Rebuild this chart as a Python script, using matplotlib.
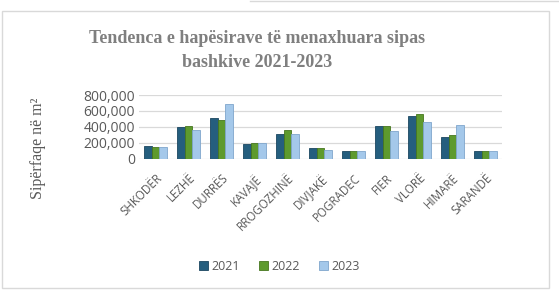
import matplotlib
matplotlib.use("Agg")
import matplotlib.pyplot as plt
from matplotlib.patches import Rectangle
import numpy as np

categories = ["SHKODËR", "LEZHË", "DURRËS", "KAVAJË", "RROGOZHINË", "DIVJAKË",
              "POGRADEC", "FIER", "VLORË", "HIMARË", "SARANDË"]
v2021 = [158000, 398000, 510000, 185000, 316000, 135000, 97000, 413000, 543000, 274000, 105000]
v2022 = [150000, 417000, 488000, 194000, 366000, 135000, 97000, 413000, 568000, 303000, 105000]
v2023 = [150000, 366000, 682000, 202000, 316000, 110000, 97000, 354000, 463000, 421000, 105000]
years = ["2021", "2022", "2023"]
colors = ["#255E7E", "#5E9A2E", "#A4C8EA"]
edges = ["#1B4660", "#46761F", "#7FA6CC"]
yticks = [0, 200000, 400000, 600000, 800000]

fig = plt.figure(figsize=(5.59, 2.96), dpi=100)
ax = fig.add_axes([0.2487, 0.463, 0.649, 0.216])

x = np.arange(len(categories))
w = 0.23
for i, (vals, c, ec, lab) in enumerate(zip([v2021, v2022, v2023], colors, edges, years)):
    ax.bar(x + (i - 1) * w, vals, width=w, color=c, edgecolor=ec, linewidth=0.6,
           label=lab, zorder=3)

ax.set_xlim(-0.5, len(categories) - 0.5)
ax.set_ylim(0, 800000)
ax.set_yticks(yticks)
ax.set_yticklabels([f"{v:,}" for v in yticks], fontsize=10, color="#595959", family="Open Sans")
ax.set_xticks(x)
ax.set_xticklabels(categories, rotation=45, ha="right", rotation_mode="anchor",
                   fontsize=8.3, color="#595959", family="Open Sans")
ax.tick_params(axis="both", length=0)
ax.tick_params(axis="x", pad=9)
ax.tick_params(axis="y", pad=3)
ax.grid(axis="y", color="#D9D9D9", linewidth=0.9, zorder=0)
for s in ax.spines.values():
    s.set_visible(False)

fig.text(0.46, 0.83, "Tendenca e hapësirave të menaxhuara sipas\nbashkive 2021-2023",
         ha="center", va="center", fontsize=13, fontweight="bold", color="#7F7F7F",
         family="Liberation Serif", linespacing=1.55)
fig.text(0.068, 0.5, "Sipërfaqe në m²", rotation=90, ha="center", va="center",
         fontsize=11.5, color="#595959", family="Liberation Serif")

leg = fig.legend(loc="center", bbox_to_anchor=(0.5, 0.1), ncol=3, frameon=False,
                 handlelength=0.7, handleheight=0.7, handletextpad=0.3,
                 columnspacing=1.5, prop={"family": "Open Sans", "size": 9})
for t in leg.get_texts():
    t.set_color("#595959")

fig.patches.append(Rectangle((2 / 559, 1 - 288 / 296), 547 / 559, 277 / 296,
                             transform=fig.transFigure, fill=False,
                             edgecolor="#D9D9D9", linewidth=1.0))
fig.lines.append(plt.Line2D([250 / 559, 1], [1 - 1 / 296, 1 - 1 / 296],
                            transform=fig.transFigure, color="#D9D9D9", linewidth=1.0))

fig.savefig("out.png", dpi=100)
